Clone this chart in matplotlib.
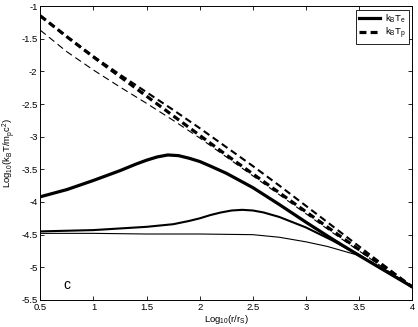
import numpy as np
import matplotlib
matplotlib.use('Agg')
import matplotlib.pyplot as plt

# log10(r/rs) sample points for the proton curves
r = [0.5, 0.75, 1.0, 1.25, 1.5, 1.75, 2.0, 2.25, 2.5, 2.75, 3.0, 3.25, 3.5, 3.75, 4.0]

# proton temperatures (dashed)
tp_thick = [-1.15, -1.47, -1.78, -2.08, -2.38, -2.68, -2.98, -3.28, -3.57, -3.86, -4.15, -4.44, -4.73, -5.01, -5.30]
tp_mid = [-1.15, -1.47, -1.77, -2.05, -2.32, -2.59, -2.87, -3.16, -3.45, -3.75, -4.06, -4.37, -4.68, -4.99, -5.30]
tp_thin = [-1.37, -1.70, -1.98, -2.24, -2.49, -2.75, -3.02, -3.31, -3.60, -3.89, -4.18, -4.47, -4.75, -5.03, -5.30]

# electron temperatures (solid)
r_thick = [0.5, 0.75, 1.0, 1.25, 1.4, 1.5, 1.6, 1.7, 1.8, 1.9, 2.0, 2.1, 2.25, 2.5, 2.75, 3.0, 3.25, 3.5, 3.75, 4.0]
te_thick = [-3.92, -3.81, -3.67, -3.52, -3.42, -3.36, -3.31, -3.28, -3.29, -3.33, -3.38, -3.45, -3.56, -3.78, -4.04, -4.31, -4.57, -4.82, -5.06, -5.30]

r_mid = [0.5, 1.0, 1.5, 1.75, 1.9, 2.0, 2.1, 2.2, 2.3, 2.4, 2.5, 2.6, 2.75, 3.0, 3.25, 3.5, 3.75, 4.0]
te_mid = [-4.45, -4.43, -4.38, -4.34, -4.29, -4.25, -4.20, -4.16, -4.13, -4.12, -4.13, -4.16, -4.23, -4.39, -4.59, -4.81, -5.06, -5.30]

r_thin = [0.5, 1.0, 1.5, 2.0, 2.5, 2.75, 3.0, 3.2, 3.35, 3.5, 3.75, 4.0]
te_thin = [-4.48, -4.48, -4.49, -4.49, -4.50, -4.54, -4.61, -4.68, -4.75, -4.82, -5.06, -5.30]

xticks = [0.5, 1, 1.5, 2, 2.5, 3, 3.5, 4]
yticks = [-5.5, -5, -4.5, -4, -3.5, -3, -2.5, -2, -1.5, -1]

plt.rcParams['font.family'] = ['Liberation Sans', 'DejaVu Sans']
plt.rcParams['mathtext.default'] = 'regular'
plt.rcParams['axes.unicode_minus'] = False
plt.rcParams['lines.scale_dashes'] = False

fig = plt.figure(figsize=(4.18, 3.27), dpi=100)
ax = fig.add_axes([0.0964, 0.0826, 0.89, 0.899])

dash = (0, (5, 3))
ax.plot(r, tp_thin, color='black', lw=0.8, linestyle=dash)
ax.plot(r, tp_mid, color='black', lw=1.5, linestyle=dash)
ax.plot(r, tp_thick, color='black', lw=2.3, linestyle=dash, label=r'k$_B$T$_p$')

ax.plot(r_thin, te_thin, color='black', lw=0.8)
ax.plot(r_mid, te_mid, color='black', lw=1.5)
ax.plot(r_thick, te_thick, color='black', lw=2.3, label=r'k$_B$T$_e$')

ax.set_xlim(0.5, 4)
ax.set_ylim(-5.5, -1)
ax.set_xticks(xticks)
ax.set_xticklabels([f'{t:g}' for t in xticks])
ax.set_yticks(yticks)
ax.set_yticklabels([f'{t:g}' for t in yticks])
ax.tick_params(direction='in', length=3, width=0.6, labelsize=6.8,
               top=True, right=True, pad=2)
for sp in ax.spines.values():
    sp.set_linewidth(0.7)

ax.set_xlabel(r'Log$_{10}$(r/r$_S$)', fontsize=6.8, labelpad=1)
ax.set_ylabel(r'Log$_{10}$(k$_B$T/m$_p$c$^2$)', fontsize=6.8, labelpad=2)

ax.text(0.72, -5.33, 'c', fontsize=10)

handles, labels = ax.get_legend_handles_labels()
leg = ax.legend(handles[::-1], labels[::-1], loc='upper right', fontsize=6.8,
                fancybox=False, framealpha=1, edgecolor='black',
                handlelength=2.2, borderaxespad=0.4, borderpad=0.3,
                labelspacing=0.1, handletextpad=0.5)
leg.get_frame().set_linewidth(0.6)

fig.savefig('out.png', dpi=100)
